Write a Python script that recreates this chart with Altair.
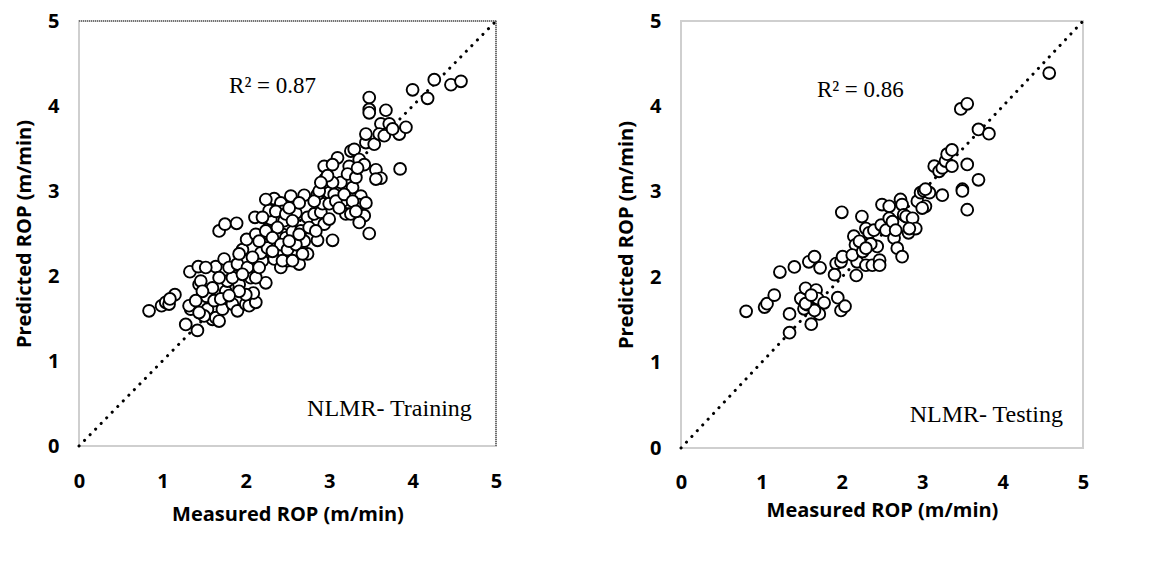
import altair as alt
import pandas as pd

# ---------------- data ----------------
train_measured = [
    0.84, 0.99, 1.04, 1.08, 1.15, 1.09, 1.33, 1.43, 1.28, 1.42, 1.34, 1.32, 1.44, 1.46, 1.53, 1.54,
    1.60, 1.64, 1.68, 1.72, 1.64, 1.74, 1.68, 1.75, 1.89, 1.89, 1.92, 1.84, 1.76, 1.78, 1.90, 2.00,
    2.04, 2.12, 2.09, 2.06, 1.98, 1.96, 2.01, 2.11, 2.24, 2.20, 2.18, 2.26, 2.28, 2.28, 2.30, 2.28,
    2.34, 2.42, 2.44, 2.46, 2.44, 2.48, 2.34, 2.42, 2.50, 2.58, 2.56, 2.60, 2.54, 2.64, 2.74, 2.70,
    2.66, 2.70, 2.64, 2.74, 2.82, 2.86, 2.90, 2.94, 3.00, 3.04, 2.92, 2.86, 2.94, 2.95, 3.00, 3.00,
    3.06, 3.10, 3.14, 3.16, 3.20, 3.26, 3.28, 3.24, 3.26, 3.30, 3.36, 3.42, 3.38, 3.36, 3.44, 3.42,
    3.36, 3.48, 3.56, 3.62, 3.56, 3.44, 3.54, 3.44, 3.48, 3.48, 3.48, 3.68, 3.62, 3.72, 3.60, 3.66,
    3.84, 3.92, 3.85, 4.00, 4.18, 4.26, 4.46, 4.58, 3.76,
    2.12, 2.16, 2.36, 2.38, 2.48, 2.52, 2.56, 2.20, 2.24, 2.32, 2.42, 2.50, 2.60, 2.64, 2.76, 2.84,
    2.82, 2.88, 3.04, 3.08, 3.12, 3.18, 3.22, 3.32, 3.34, 3.28, 3.32, 3.04, 2.98, 2.90, 2.00, 1.92,
    1.84, 1.80, 1.68, 1.60, 1.52, 1.48, 1.62, 1.70, 1.80, 1.90, 2.02, 2.08, 1.96, 1.40, 1.50, 1.44,
    1.92, 2.44, 2.56, 2.52, 2.68, 2.12, 2.16, 2.32, 2.24,
]
train_predicted = [
    1.59, 1.65, 1.69, 1.67, 1.78, 1.73, 2.05, 2.11, 1.43, 1.36, 1.61, 1.65, 1.90, 1.94, 1.76, 1.61,
    1.49, 1.51, 1.47, 1.61, 2.11, 2.20, 2.53, 2.61, 2.62, 2.13, 1.90, 1.67, 1.82, 1.94, 1.59, 1.67,
    1.65, 1.69, 1.80, 1.98, 2.18, 2.31, 2.43, 2.69, 1.92, 2.18, 2.27, 2.33, 2.49, 2.57, 2.67, 2.77,
    2.91, 2.86, 2.76, 2.65, 2.49, 2.45, 2.20, 2.10, 2.18, 2.26, 2.52, 2.74, 2.94, 2.14, 2.26, 2.41,
    2.53, 2.95, 2.86, 2.69, 2.73, 2.42, 2.75, 2.61, 2.67, 2.42, 2.85, 2.96, 3.29, 3.14, 2.98, 2.85,
    2.96, 3.39, 3.10, 2.88, 2.73, 2.73, 3.04, 3.29, 3.47, 3.49, 3.37, 3.31, 2.94, 2.84, 2.86, 2.71,
    2.63, 2.50, 3.25, 3.15, 3.14, 3.57, 3.55, 3.67, 4.10, 3.96, 3.92, 3.95, 3.79, 3.79, 3.67, 3.65,
    3.67, 3.75, 3.26, 4.19, 4.09, 4.31, 4.25, 4.29, 3.73,
    2.49, 2.41, 2.76, 2.57, 2.73, 2.80, 2.65, 2.69, 2.53, 2.45, 2.37, 2.31, 2.37, 2.49, 2.57, 2.53,
    2.88, 3.00, 3.10, 2.88, 2.80, 2.96, 3.20, 3.16, 3.27, 2.88, 2.76, 3.31, 3.18, 3.10, 1.78, 1.82,
    1.98, 2.10, 1.98, 1.86, 2.10, 1.82, 1.71, 1.73, 1.77, 2.14, 2.10, 2.22, 2.02, 1.71, 1.53, 1.57,
    2.26, 2.18, 2.18, 2.41, 2.26, 1.98, 2.10, 2.29, 2.90,
]

test_measured = [
    0.81, 1.04, 1.07, 1.16, 1.23, 1.41, 1.35, 1.35, 1.49, 1.55, 1.53, 1.57, 1.62, 1.59, 1.66, 1.73,
    1.68, 1.70, 1.78, 1.72, 1.66, 1.93, 1.99, 2.01, 1.91, 1.95, 1.99, 2.04, 2.00, 2.15, 2.17, 2.18,
    2.19, 2.25, 2.13, 2.26, 2.30, 2.30, 2.34, 2.38, 2.40, 2.44, 2.47, 2.47, 2.50, 2.49, 2.55, 2.59,
    2.59, 2.63, 2.65, 2.69, 2.73, 2.75, 2.75, 2.77, 2.80, 2.83, 2.88, 2.92, 2.94, 2.98, 3.02, 3.04,
    3.09, 3.00, 3.15, 3.21, 3.25, 3.29, 3.31, 3.37, 3.37, 3.25, 3.48, 3.56, 3.56, 3.50, 3.50, 3.56,
    3.70, 3.83, 3.70, 4.58, 2.84, 2.67, 2.36, 2.22, 1.55, 1.62, 3.04, 2.30,
]
test_predicted = [
    1.60, 1.65, 1.69, 1.79, 2.06, 2.12, 1.57, 1.35, 1.75, 1.87, 1.63, 1.68, 1.45, 2.18, 2.24, 2.11,
    1.85, 1.75, 1.70, 1.57, 1.61, 2.16, 2.18, 2.24, 2.03, 1.76, 1.61, 1.66, 2.76, 2.48, 2.38, 2.02,
    2.18, 2.71, 2.26, 2.30, 2.14, 2.57, 2.52, 2.14, 2.55, 2.36, 2.20, 2.14, 2.85, 2.61, 2.55, 2.83,
    2.69, 2.65, 2.46, 2.34, 2.91, 2.85, 2.24, 2.73, 2.71, 2.52, 2.69, 2.57, 2.89, 2.99, 3.01, 2.83,
    2.99, 2.81, 3.30, 3.24, 3.28, 3.36, 3.44, 3.49, 3.30, 2.96, 3.97, 4.03, 3.32, 3.03, 3.01, 2.79,
    3.73, 3.68, 3.14, 4.39, 2.57, 2.55, 2.39, 2.42, 1.69, 1.79, 3.03, 2.34,
]

diag = [0, 5]
axis_ticks = [0, 1, 2, 3, 4, 5]

panels = [
    dict(measured=train_measured, predicted=train_predicted, r2="R\u00b2 = 0.87",
         r2_pos=(1.80, 4.24), label="NLMR- Training", label_pos=(4.71, 0.44),
         width=417, height=425, dark_frame=True, xlabpad=25, xtitlepad=13),
    dict(measured=test_measured, predicted=test_predicted, r2="R\u00b2 = 0.86",
         r2_pos=(1.69, 4.19), label="NLMR- Testing", label_pos=(4.75, 0.39),
         width=402, height=427, dark_frame=False, xlabpad=24, xtitlepad=8),
]

SANS = "Open Sans"
SERIF = "Liberation Serif"


def make_panel(p):
    df = pd.DataFrame({"Measured": p["measured"], "Predicted": p["predicted"]})
    ddf = pd.DataFrame({"Measured": diag, "Predicted": diag})
    x = alt.X("Measured:Q", scale=alt.Scale(domain=[0, 5], nice=False),
              axis=alt.Axis(values=axis_ticks, format="d", title="Measured ROP (m/min)",
                            labelFlush=False,
                            labelPadding=p["xlabpad"], titlePadding=p["xtitlepad"]))
    y = alt.Y("Predicted:Q", scale=alt.Scale(domain=[0, 5], nice=False),
              axis=alt.Axis(values=axis_ticks, format="d", title="Predicted ROP (m/min)",
                            labelFlush=False, labelPadding=20, titlePadding=13))
    line = alt.Chart(ddf).mark_line(color="black", strokeWidth=3, strokeDash=[0.1, 7.8],
                                    strokeCap="round").encode(x=x, y=y)
    pts = alt.Chart(df).mark_point(shape="circle", filled=False, fill="white", fillOpacity=1,
                                   color="black", strokeWidth=1.9, size=140, opacity=1).encode(
        x="Measured:Q", y="Predicted:Q")
    r2df = pd.DataFrame({"Measured": [p["r2_pos"][0]], "Predicted": [p["r2_pos"][1]], "t": [p["r2"]]})
    r2 = alt.Chart(r2df).mark_text(font=SERIF, fontSize=23, align="left", baseline="middle",
                                   color="black").encode(x="Measured:Q", y="Predicted:Q", text="t:N")
    ldf = pd.DataFrame({"Measured": [p["label_pos"][0]], "Predicted": [p["label_pos"][1]], "t": [p["label"]]})
    lab = alt.Chart(ldf).mark_text(font=SERIF, fontSize=24, align="right", baseline="middle",
                                   color="black").encode(x="Measured:Q", y="Predicted:Q", text="t:N")
    layers = [line, pts, r2, lab]
    if p["dark_frame"]:
        top = alt.Chart(r2df).mark_rule(color="#555555", strokeWidth=1.6, strokeDash=[1, 1]).encode(
            x=alt.value(0), x2=alt.value(p["width"]), y=alt.value(0))
        right = alt.Chart(r2df).mark_rule(color="#555555", strokeWidth=1.6, strokeDash=[1, 1]).encode(
            x=alt.value(p["width"]), y=alt.value(0), y2=alt.value(p["height"]))
        layers += [top, right]
    return alt.layer(*layers).properties(width=p["width"], height=p["height"])


chart = alt.hconcat(*[make_panel(p) for p in panels], spacing=112).configure_view(
    stroke="#cfcfcf", strokeWidth=2
).configure_axis(
    grid=False, ticks=False, domain=False,
    labelFont=SANS, labelFontWeight="bold", labelFontSize=20, labelColor="black",
    titleFont=SANS, titleFontWeight="bold", titleFontSize=20, titleColor="black",
).properties(background="white", padding={"left": 5, "top": 2, "right": 5, "bottom": 5})

chart.save("out.html", embed_options={"renderer": "svg", "actions": False})
